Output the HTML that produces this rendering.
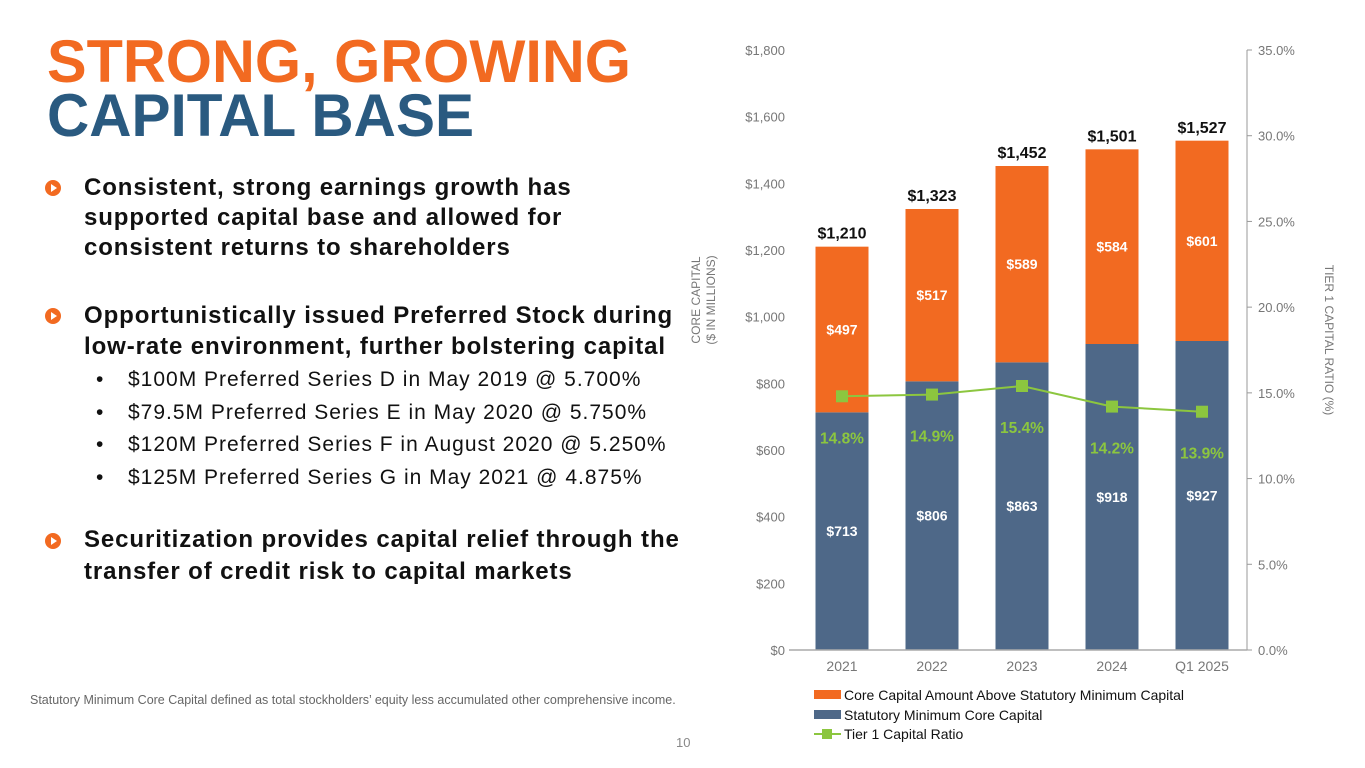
<!DOCTYPE html>
<html><head><meta charset="utf-8"><style>
body{margin:0;width:1365px;height:768px;background:#fff;font-family:"Liberation Sans",sans-serif;position:relative;overflow:hidden}
.abs{position:absolute}
.b{font-weight:bold;font-size:24px;letter-spacing:0.9px;color:#111;left:84px;white-space:nowrap}
.ic{position:absolute;left:45px;width:16px;height:16px;border-radius:50%;background:#f26a21}
.ic:after{content:"";position:absolute;left:6px;top:4px;border-left:6px solid #fff;border-top:4px solid transparent;border-bottom:4px solid transparent}
.sub{left:96px;font-size:21px;letter-spacing:1px;color:#111;line-height:32.5px;white-space:nowrap}
.sub span{display:inline-block;width:32px}
</style></head><body>
<svg class="abs" style="left:0;top:0" width="700" height="150">
<text x="47" y="82" textLength="584" lengthAdjust="spacingAndGlyphs" font-family="Liberation Sans" font-weight="bold" font-size="60" fill="#f26a21">STRONG, GROWING</text>
<text x="47" y="136" textLength="427" lengthAdjust="spacingAndGlyphs" font-family="Liberation Sans" font-weight="bold" font-size="60" fill="#2a5a80">CAPITAL BASE</text>
</svg>
<div class="ic" style="top:180px"></div>
<div class="abs b" style="top:173px;line-height:30px">Consistent, strong earnings growth has<br>supported capital base and allowed for<br>consistent returns to shareholders</div>
<div class="ic" style="top:308px"></div>
<div class="abs b" style="top:300px;line-height:31px">Opportunistically issued Preferred Stock during<br>low-rate environment, further bolstering capital</div>
<div class="abs sub" style="top:364px"><span>•</span>$100M Preferred Series D in May 2019 @ 5.700%<br><span>•</span>$79.5M Preferred Series E in May 2020 @ 5.750%<br><span>•</span>$120M Preferred Series F in August 2020 @ 5.250%<br><span>•</span>$125M Preferred Series G in May 2021 @ 4.875%</div>
<div class="ic" style="top:533px"></div>
<div class="abs b" style="top:524px;line-height:32px">Securitization provides capital relief through the<br>transfer of credit risk to capital markets</div>
<div class="abs" style="left:30px;top:693px;font-size:12.5px;color:#666">Statutory Minimum Core Capital defined as total stockholders’ equity less accumulated other comprehensive income.</div>
<div class="abs" style="left:676px;top:735px;font-size:13px;color:#888">10</div>
<svg id="chart" class="abs" style="left:0;top:0" width="1365" height="768"></svg>
<script>
const categories=["2021","2022","2023","2024","Q1 2025"];
const statMin=[713,806,863,918,927];
const above=[497,517,589,584,601];
const totals=[1210,1323,1452,1501,1527];
const ratio=[14.8,14.9,15.4,14.2,13.9];
const leftTicks=[0,200,400,600,800,1000,1200,1400,1600,1800];
const rightTicks=[0,5,10,15,20,25,30,35];
const svg=document.getElementById('chart');
const NS="http://www.w3.org/2000/svg";
const x0=797,x1=1247,yb=650,yt=50;
const yL=v=>yb-(v/1800)*(yb-yt);
const yR=v=>yb-(v/35)*(yb-yt);
const xC=i=>x0+(i+0.5)*(x1-x0)/categories.length;
const bw=53;
function mk(tag,a,txt){const e=document.createElementNS(NS,tag);for(const k in a)e.setAttribute(k,a[k]);if(txt!==undefined)e.textContent=txt;svg.appendChild(e);return e;}
const F="Liberation Sans, sans-serif";
leftTicks.forEach(t=>{const e=mk('text',{x:785,y:yL(t)+5,'text-anchor':'end','font-size':13,fill:'#777','font-family':F},'$'+t.toLocaleString('en-US'));

});
rightTicks.forEach(t=>{const l=mk('line',{x1:1247,x2:1252,y1:yR(t),y2:yR(t),stroke:'#999'});


const e=mk('text',{x:1258,y:yR(t)+5,'font-size':13,fill:'#777','font-family':F},t.toFixed(1)+'%');

});
const ra=mk('line',{x1:1247,x2:1247,y1:yt,y2:yb,stroke:'#999'});


categories.forEach((c,i)=>{const cx=xC(i);
const b1=mk('rect',{x:cx-bw/2,y:yL(statMin[i]),width:bw,height:yb-yL(statMin[i]),fill:'#4e6888'});


const b2=mk('rect',{x:cx-bw/2,y:yL(statMin[i]+above[i]),width:bw,height:yL(statMin[i])-yL(statMin[i]+above[i]),fill:'#f26a21'});


const t1=mk('text',{x:cx,y:(yb+yL(statMin[i]))/2+5,'text-anchor':'middle','font-size':14,'font-weight':'bold',fill:'#fff','font-family':F},'$'+statMin[i]);


const t2=mk('text',{x:cx,y:(yL(statMin[i])+yL(statMin[i]+above[i]))/2+5,'text-anchor':'middle','font-size':14,'font-weight':'bold',fill:'#fff','font-family':F},'$'+above[i]);


const t3=mk('text',{x:cx,y:yL(totals[i])-8,'text-anchor':'middle','font-size':16,'font-weight':'bold',fill:'#111','font-family':F},'$'+totals[i].toLocaleString('en-US'));


const xl=mk('text',{x:cx,y:671,'text-anchor':'middle','font-size':14,fill:'#777','font-family':F},c);


});
const ax=mk('line',{x1:x0-8,x2:x1,y1:yb,y2:yb,stroke:'#aaa','stroke-width':1.5});


const pl=mk('polyline',{points:ratio.map((r,i)=>xC(i)+','+yR(r)).join(' '),fill:'none',stroke:'#8cc63f','stroke-width':2});


ratio.forEach((r,i)=>{const m=mk('rect',{x:xC(i)-6,y:yR(r)-6,width:12,height:12,fill:'#8cc63f'});


const t=mk('text',{x:xC(i),y:yR(r)+47,'text-anchor':'middle','font-size':15.5,'font-weight':'bold',fill:'#8cc63f','font-family':F},r.toFixed(1)+'%');

});
const yt1=mk('text',{transform:'translate(700,300) rotate(-90)','text-anchor':'middle','font-size':12,fill:'#777','font-family':F},'CORE CAPITAL');


const yt2=mk('text',{transform:'translate(715,300) rotate(-90)','text-anchor':'middle','font-size':12,fill:'#777','font-family':F},'($ IN MILLIONS)');


const yt3=mk('text',{transform:'translate(1325,340) rotate(90)','text-anchor':'middle','font-size':12,fill:'#777','font-family':F},'TIER 1 CAPITAL RATIO (%)');


const leg=[["#f26a21","Core Capital Amount Above Statutory Minimum Capital",695],["#4e6888","Statutory Minimum Core Capital",715]];
leg.forEach(l=>{const r=mk('rect',{x:814,y:l[2]-5,width:27,height:9,fill:l[0]});


const t=mk('text',{x:844,y:l[2]+5,'font-size':14,fill:'#111','font-family':F},l[1]);

});
const ll=mk('line',{x1:814,x2:841,y1:734,y2:734,stroke:'#8cc63f','stroke-width':2});


const lm=mk('rect',{x:822,y:729,width:10,height:10,fill:'#8cc63f'});


const lt=mk('text',{x:844,y:739,'font-size':14,fill:'#111','font-family':F},'Tier 1 Capital Ratio');


</script>
</body></html>
